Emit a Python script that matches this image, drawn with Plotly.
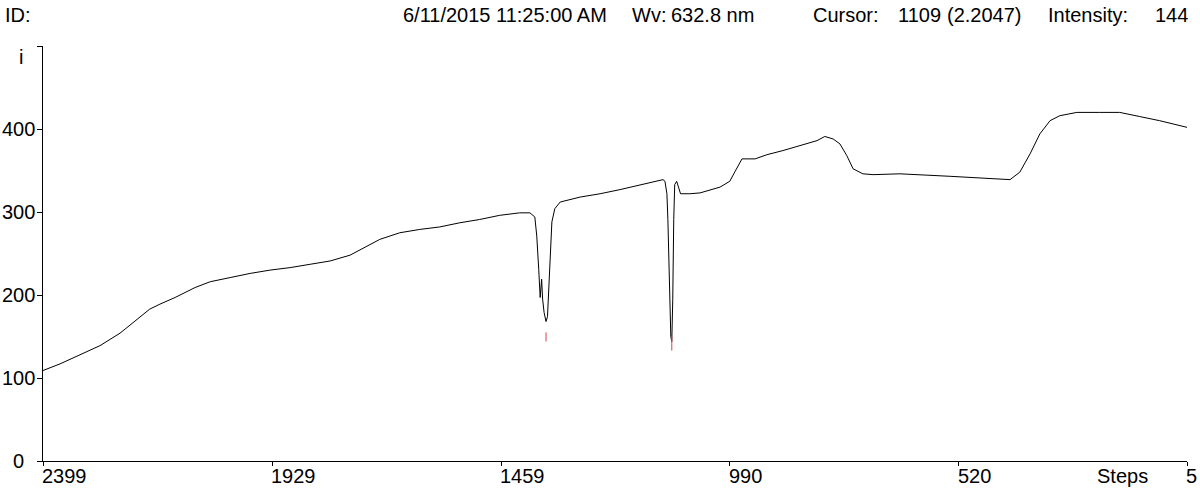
import plotly.graph_objects as go

# ---- data ----
steps = [2399, 2364, 2323, 2282, 2241, 2200, 2180, 2159, 2128, 2087, 2056, 2015, 1974, 1933,
         1892, 1851, 1810, 1769, 1728, 1708, 1667, 1626, 1585, 1544, 1503, 1462, 1421, 1400,
         1390, 1386, 1382, 1379, 1376, 1374, 1371, 1367, 1364, 1361, 1357, 1355, 1349, 1338,
         1297, 1256, 1215, 1174, 1143, 1127, 1123, 1119, 1117, 1115, 1113, 1111, 1109, 1107,
         1105, 1103, 1099, 1095, 1091, 1072, 1051, 1010, 990, 979, 965, 938, 914, 881, 846,
         811, 795, 778, 764, 750, 737, 717, 696, 641, 538, 436, 415, 395, 374, 354, 333, 313,
         278, 231, 190, 149, 108, 52]
intensity = [109, 117, 128, 139, 154, 173, 183, 189, 197, 209, 216, 221, 226, 230,
             233, 237, 241, 248, 261, 267, 275, 279, 282, 287, 291, 296, 299, 299,
             294, 271, 231, 197, 219, 195, 179, 168, 174, 210, 259, 288, 304, 312,
             318, 322, 327, 333, 337, 339, 337, 322, 291, 243, 195, 150, 144, 195,
             291, 333, 337, 328, 322, 322, 323, 330, 337, 349, 364, 364, 369, 374, 380,
             386, 391, 388, 382, 368, 352, 346, 345, 346, 343, 340, 339, 348, 370, 394, 410, 416,
             420, 420, 420, 415, 410, 402]
assert len(steps) == len(intensity)

# red peak markers (step, top, bottom)
marker_steps = [1367, 1109]
marker_top = [155, 150]
marker_bottom = [144, 133]

x_tick_vals = [2399, 1929, 1459, 990, 520, 52]
x_tick_text = ["2399", "1929", "1459", "990", "520", "5"]
y_tick_vals = [0, 100, 200, 300, 400]
y_tick_text = ["0", "100", "200", "300", "400"]

header = [("ID:", 3), ("6/11/2015 11:25:00 AM", 401), ("Wv:", 630), ("632.8 nm", 669),
          ("Cursor:", 811), ("1109", 896), ("(2.2047)", 945), ("Intensity:", 1046), ("144", 1153)]

# ---- layout geometry ----
W, H = 1200, 489
L, R, T, B = 43, 13, 46, 28
PW, PH = W - L - R, H - T - B
FONT = "Liberation Sans, Arial, sans-serif"
FS = 20


def px(x):
    return (x - L) / PW


def py(y):
    return (H - B - y) / PH


fig = go.Figure()
fig.add_trace(go.Scatter(x=steps, y=intensity, mode="lines",
                         line=dict(color="black", width=1), hoverinfo="skip"))
mx, my = [], []
for s, t, b in zip(marker_steps, marker_top, marker_bottom):
    mx += [s, s, None]
    my += [t, b, None]
fig.add_trace(go.Scatter(x=mx, y=my, mode="lines",
                         line=dict(color="#d9404f", width=1), hoverinfo="skip"))

ann = []
for txt, x0 in header:
    ann.append(dict(text=txt, x=px(x0), y=py(15), xref="paper", yref="paper",
                    xanchor="left", yanchor="middle", showarrow=False,
                    font=dict(size=FS, color="black", family=FONT)))
for v, t in zip(x_tick_vals, x_tick_text):
    ann.append(dict(text=t, x=v, y=py(476), xref="x", yref="paper",
                    xanchor="left", yanchor="middle", showarrow=False, xshift=-3,
                    font=dict(size=FS, color="black", family=FONT)))
for v, t in zip(y_tick_vals, y_tick_text):
    ann.append(dict(text=t, x=px(18), y=v, xref="paper", yref="y",
                    xanchor="center", yanchor="middle", showarrow=False,
                    font=dict(size=FS, color="black", family=FONT)))
ann.append(dict(text="i", x=px(21), y=py(57), xref="paper", yref="paper",
                xanchor="center", yanchor="middle", showarrow=False,
                font=dict(size=FS, color="black", family=FONT)))
ann.append(dict(text="Steps", x=px(1095), y=py(476), xref="paper", yref="paper",
                xanchor="left", yanchor="middle", showarrow=False,
                font=dict(size=FS, color="black", family=FONT)))

fig.update_layout(
    width=W, height=H,
    margin=dict(l=L, r=R, t=T, b=B, pad=0),
    paper_bgcolor="white", plot_bgcolor="white",
    showlegend=False,
    annotations=ann,
    xaxis=dict(range=[2399, 52], showgrid=False, zeroline=False,
               showline=True, linecolor="black", linewidth=1,
               ticks="outside", ticklen=4, tickcolor="black", tickwidth=1,
               tickvals=x_tick_vals, showticklabels=False),
    yaxis=dict(range=[0, 500], showgrid=False, zeroline=False,
               showline=True, linecolor="black", linewidth=1,
               ticks="outside", ticklen=5, tickcolor="black", tickwidth=1,
               tickvals=y_tick_vals + [500], showticklabels=False),
)

fig.write_html("out.html", config={"displayModeBar": False},
               post_script="document.body.style.margin='0';document.body.style.overflow='hidden';")
